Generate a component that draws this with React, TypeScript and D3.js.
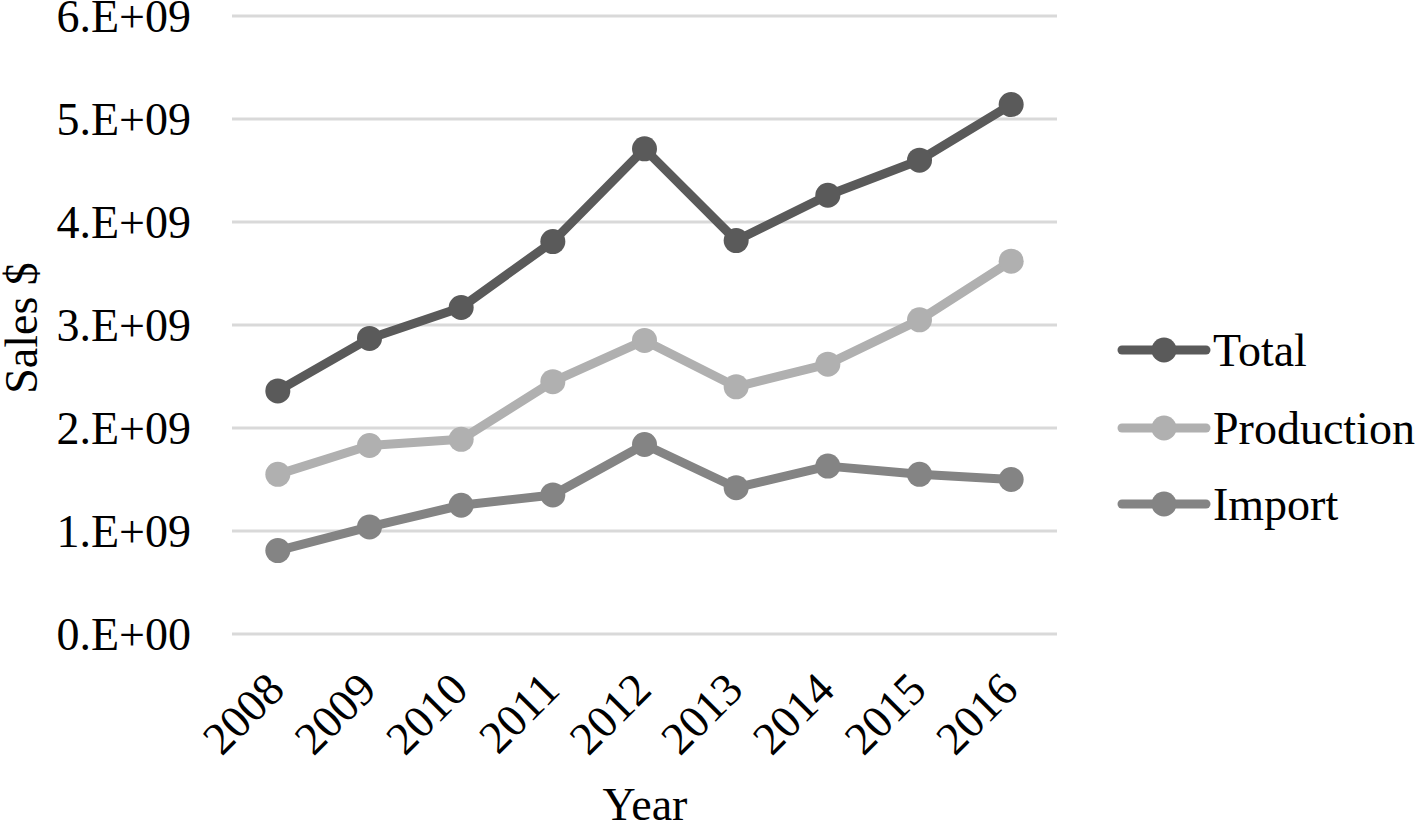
import React from "react";
import * as d3 from "d3";

const years = ["2008", "2009", "2010", "2011", "2012", "2013", "2014", "2015", "2016"];
const totalValues = [2.36e9, 2.87e9, 3.17e9, 3.81e9, 4.71e9, 3.82e9, 4.26e9, 4.60e9, 5.14e9];
const productionValues = [1.55e9, 1.83e9, 1.89e9, 2.45e9, 2.85e9, 2.40e9, 2.62e9, 3.05e9, 3.62e9];
const importValues = [0.81e9, 1.04e9, 1.25e9, 1.35e9, 1.84e9, 1.42e9, 1.63e9, 1.55e9, 1.50e9];
const yTicks = [0, 1e9, 2e9, 3e9, 4e9, 5e9, 6e9];
const yTickLabels = ["0.E+00", "1.E+09", "2.E+09", "3.E+09", "4.E+09", "5.E+09", "6.E+09"];

const seriesNames = ["Total", "Production", "Import"];
const seriesColors = ["#5a5a5a", "#b0b0b0", "#848484"];
const seriesValues = [totalValues, productionValues, importValues];

const W = 1418;
const H = 822;
const left = 232;
const right = 1057;
const top = 16;
const bottom = 634;
const FONT = "'Liberation Serif', 'Times New Roman', serif";
const FS = 46;

export default function App() {
  const x = d3.scaleBand<string>().domain(years).range([left, right]).padding(0);
  const y = d3.scaleLinear().domain([0, 6e9]).range([bottom, top]);
  const cx = (d: string) => (x(d) as number) + x.bandwidth() / 2;
  const line = d3
    .line<number>()
    .x((_, i) => cx(years[i]))
    .y((v) => y(v));

  const legendY = [350, 428, 504];

  return (
    <svg
      width={W}
      height={H}
      style={{ position: "absolute", left: 0, top: 0, background: "#fff" }}
      fontFamily={FONT}
    >
      {yTicks.map((t, i) => (
        <g key={t}>
          <line x1={left} x2={right} y1={y(t)} y2={y(t)} stroke="#d9d9d9" strokeWidth={3} />
          <text x={191} y={y(t)} dy="0.35em" textAnchor="end" fontSize={FS} fill="#000">
            {yTickLabels[i]}
          </text>
        </g>
      ))}
      {years.map((yr) => (
        <text
          key={yr}
          transform={`translate(${cx(yr) + 9},${692}) rotate(-45)`}
          textAnchor="end"
          fontSize={FS}
          fill="#000"
        >
          {yr}
        </text>
      ))}
      <text
        transform={`translate(${21},${328}) rotate(-90)`}
        textAnchor="middle"
        dy="0.35em"
        fontSize={FS}
        fill="#000"
      >
        Sales $
      </text>
      <text x={645} y={820} textAnchor="middle" fontSize={FS} fill="#000">
        Year
      </text>
      {seriesValues.map((vals, si) => (
        <g key={seriesNames[si]}>
          <path
            d={line(vals) || ""}
            fill="none"
            stroke={seriesColors[si]}
            strokeWidth={9}
            strokeLinejoin="round"
            strokeLinecap="round"
          />
          {vals.map((v, i) => (
            <circle key={i} cx={cx(years[i])} cy={y(v)} r={12.5} fill={seriesColors[si]} />
          ))}
        </g>
      ))}
      {seriesNames.map((name, si) => (
        <g key={name}>
          <line
            x1={1122}
            x2={1206}
            y1={legendY[si]}
            y2={legendY[si]}
            stroke={seriesColors[si]}
            strokeWidth={9}
            strokeLinecap="round"
          />
          <circle cx={1164} cy={legendY[si]} r={12.5} fill={seriesColors[si]} />
          <text x={1213} y={legendY[si]} dy="0.35em" fontSize={FS} fill="#000">
            {name}
          </text>
        </g>
      ))}
    </svg>
  );
}
